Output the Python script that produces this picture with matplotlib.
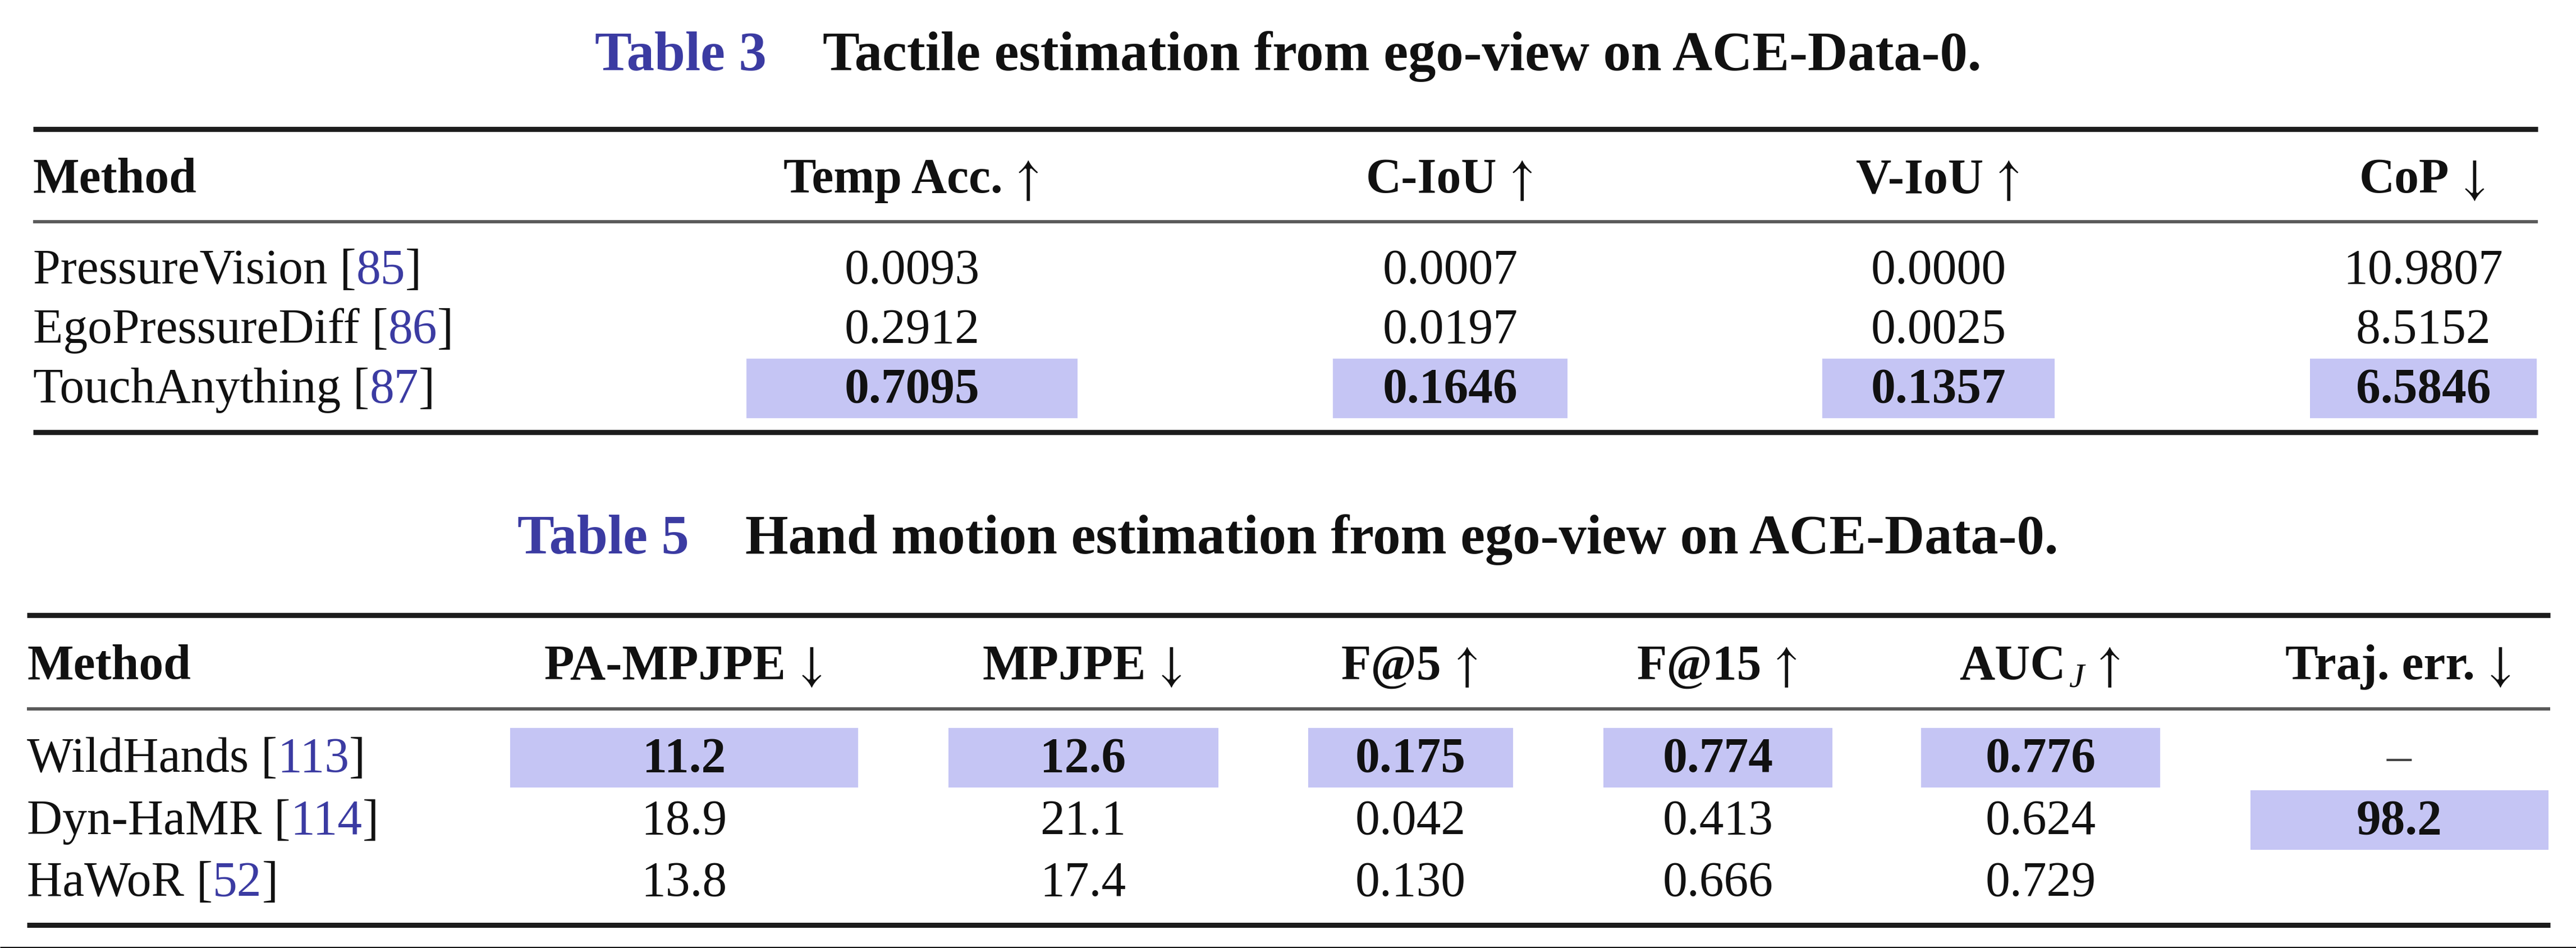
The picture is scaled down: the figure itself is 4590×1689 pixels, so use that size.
import matplotlib.pyplot as plt
from matplotlib.patches import Rectangle

# ---------------- Table 3 data ----------------
t3_methods = ["PressureVision", "EgoPressureDiff", "TouchAnything"]
t3_refs = ["85", "86", "87"]
t3_metrics = ["Temp Acc.", "C-IoU", "V-IoU", "CoP"]
t3_subs = [None, None, None, None]
t3_higher_better = [True, True, True, False]
t3_decimals = [4, 4, 4, 4]
t3_temp_acc = [0.0093, 0.2912, 0.7095]
t3_c_iou = [0.0007, 0.0197, 0.1646]
t3_v_iou = [0.0000, 0.0025, 0.1357]
t3_cop = [10.9807, 8.5152, 6.5846]

# ---------------- Table 5 data ----------------
t5_methods = ["WildHands", "Dyn-HaMR", "HaWoR"]
t5_refs = ["113", "114", "52"]
t5_metrics = ["PA-MPJPE", "MPJPE", "F@5", "F@15", "AUC", "Traj. err."]
t5_subs = [None, None, None, None, "J", None]
t5_higher_better = [False, False, True, True, True, False]
t5_decimals = [1, 1, 3, 3, 3, 1]
t5_pa_mpjpe = [11.2, 18.9, 13.8]
t5_mpjpe = [12.6, 21.1, 17.4]
t5_f5 = [0.175, 0.042, 0.130]
t5_f15 = [0.774, 0.413, 0.666]
t5_auc = [0.776, 0.624, 0.729]
t5_traj_err = ["-", 98.2, None]   # "-" = reported missing, None = not shown

# ---------------- layout (pixels) ----------------
W, H = 4590, 1689
BODY = 63
TITLE = 71
PX = 100 / 72
INK = "#111111"
CITE = "#3b3ba2"
BEST = "#c5c5f4"
FAMILY = ["Liberation Serif", "DejaVu Serif"]
ARROW_FAMILY = ["STIXGeneral", "DejaVu Serif"]

plt.rcParams["font.family"] = FAMILY

fig = plt.figure(figsize=(W / 100, H / 100), dpi=100)
ax = fig.add_axes([0, 0, 1, 1])
ax.set_xlim(0, W)
ax.set_ylim(H, 0)
ax.axis("off")
renderer = fig.canvas.get_renderer()


def ink_width(s, **kw):
    t = ax.text(0, 0, s, **kw)
    w = t.get_window_extent(renderer).width
    t.remove()
    return w


def rule(x0, x1, y, lw, color):
    ax.plot([x0, x1], [y, y], lw=lw, color=color, solid_capstyle="butt")


def title(y, label, caption):
    kw = dict(fontsize=TITLE, fontweight="bold", va="baseline")
    gap = 100
    wl = ink_width(label, **kw)
    wc = ink_width(caption, **kw)
    x = W / 2 - (wl + gap + wc) / 2
    ax.text(x, y, label, color=CITE, **kw)
    ax.text(x + wl + gap, y, caption, color=INK, **kw)


def cited(x, y, name, ref):
    kw = dict(fontsize=BODY, va="baseline", ha="left")
    head = name + " ["
    ax.text(x, y, head, color=INK, **kw)
    dx = ink_width(head + ref, **kw) - ink_width(ref, **kw)
    ax.text(x + dx, y, ref, color=CITE, **kw)
    dx2 = ink_width(head + ref + "]", **kw) - ink_width("]", **kw)
    ax.text(x + dx2, y, "]", color=INK, **kw)


def header(xc, y, label, up, sub=None):
    bold = dict(fontsize=BODY, fontweight="bold", va="baseline")
    reg = dict(fontsize=BODY, va="baseline", family=ARROW_FAMILY)
    subkw = dict(fontsize=BODY * 0.7, fontstyle="italic", va="baseline")
    arrow = "\u2191" if up else "\u2193"
    gap = 0.26 * BODY * PX
    wl = ink_width(label, **bold)
    ws = ink_width(sub, **subkw) + 6 if sub else 0
    wa = ink_width(arrow, **reg)
    x = xc - (wl + ws + gap + wa) / 2
    ax.text(x, y, label, color=INK, **bold)
    if sub:
        ax.text(x + wl + 6, y + 0.16 * BODY * PX, sub, color=INK, **subkw)
    ax.text(x + wl + ws + gap, y, arrow, color=INK, **reg)


def draw_table(lay, methods, refs, metrics, subs, better, columns, decimals):
    x0, x1 = lay["x0"], lay["x1"]
    rule(x0, x1, lay["top"], 6.5, "#1c1c1c")
    rule(x0, x1, lay["mid"], 4.2, "#5a5a5a")
    rule(x0, x1, lay["bottom"], 6.5, "#1c1c1c")

    ax.text(x0, lay["head"], "Method", fontsize=BODY, fontweight="bold",
            va="baseline", color=INK)
    for xc, m, s, hb in zip(lay["cols"], metrics, subs, better):
        header(xc, lay["head"], m, hb, s)

    for i, (name, ref) in enumerate(zip(methods, refs)):
        cited(x0, lay["rows"][i], name, ref)

    for xc, bw, vals, hb, d in zip(lay["cols"], lay["box_w"], columns, better, decimals):
        nums = [v for v in vals if isinstance(v, (int, float))]
        best = max(nums) if hb else min(nums)
        for i, v in enumerate(vals):
            y = lay["rows"][i]
            if v is None:
                continue
            if isinstance(v, str):
                ax.text(xc, y, "\u2013", fontsize=BODY, ha="center", va="baseline",
                        color="#444444")
                continue
            is_best = v == best
            if is_best:
                ax.add_patch(Rectangle((xc - bw / 2, y - 78), bw, 106,
                                       facecolor=BEST, edgecolor="none", zorder=1))
            ax.text(xc, y, f"{v:.{d}f}", fontsize=BODY, ha="center", va="baseline",
                    fontweight="bold" if is_best else "normal", color=INK, zorder=3)


t3_layout = dict(x0=59, x1=4522, top=230, mid=395, bottom=770, head=343,
                 rows=[505, 611, 717],
                 cols=[1625, 2584, 3454, 4318], box_w=[590, 418, 414, 404])
t5_layout = dict(x0=48, x1=4544, top=1096, mid=1263, bottom=1648, head=1210,
                 rows=[1375, 1486, 1596],
                 cols=[1219, 1930, 2513, 3061, 3636, 4275],
                 box_w=[620, 481, 365, 408, 426, 531])

title(125, "Table 3", "Tactile estimation from ego-view on ACE-Data-0.")
draw_table(t3_layout, t3_methods, t3_refs, t3_metrics, t3_subs, t3_higher_better,
           [t3_temp_acc, t3_c_iou, t3_v_iou, t3_cop], t3_decimals)

title(986, "Table 5", "Hand motion estimation from ego-view on ACE-Data-0.")
draw_table(t5_layout, t5_methods, t5_refs, t5_metrics, t5_subs, t5_higher_better,
           [t5_pa_mpjpe, t5_mpjpe, t5_f5, t5_f15, t5_auc, t5_traj_err], t5_decimals)

# thin frame line at the very bottom of the screenshot
rule(0, W, 1687.5, 2.2, "#111111")

fig.savefig("out.png", dpi=100, facecolor="white")
